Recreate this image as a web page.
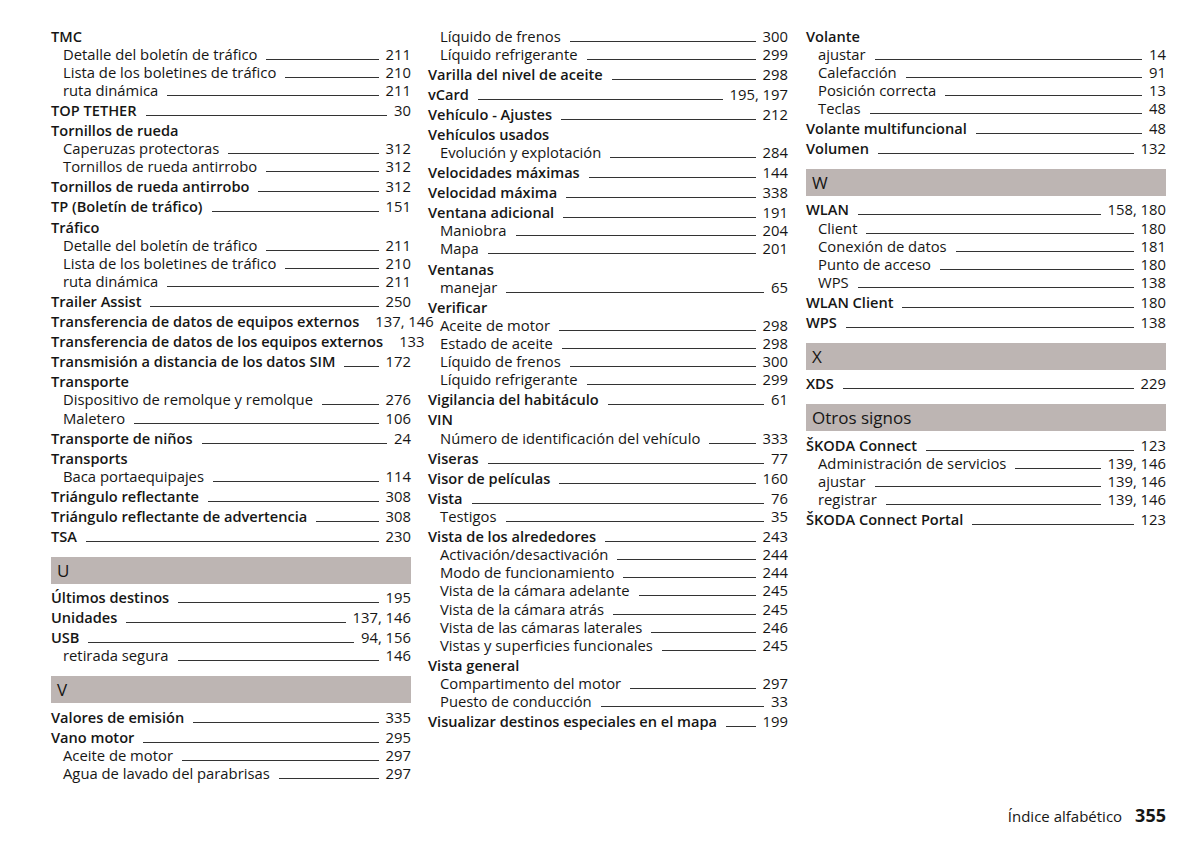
<!DOCTYPE html>
<html lang="es">
<head>
<meta charset="utf-8">
<script src="https://cdn.jsdelivr.net/npm/chart.js@4"></script>
<style>
  html, body { margin: 0; padding: 0; background: #fff; }
  #page { position: relative; width: 1200px; height: 845px; overflow: hidden;
          font-family: "Open Sans", sans-serif; color: #161615; font-size: 14.8px; }
  .row { position: absolute; height: 18px; line-height: 18px; display: flex; white-space: nowrap; }
  .row .lbl { flex: 0 0 auto; }
  .row .lead { flex: 1 1 auto; min-width: 0; height: 1px; background: #333; margin: 14px 7px 0 9px; }
  .row .pg { flex: 0 0 auto; font-weight: 400; font-size: 14.8px; }
  .row.m .lbl { font-weight: 600; font-size: 14.6px; }
  .bar { position: absolute; height: 27px; background: #bdb5b3; font-size: 17px; line-height: 27px;
         padding-left: 6px; box-sizing: border-box; }
  #foot { position: absolute; right: 34px; top: 803px; font-size: 15px; line-height: 24px; }
  #foot b { font-size: 18px; margin-left: 13px; }
</style>
</head>
<body>
<div id="page"></div>
<script>
// index entries: [kind, label, pages]  kind: m = main entry, s = sub entry, bar = letter header
const colOne = [
  ['m', 'TMC', ''],
  ['s', 'Detalle del boletín de tráfico', '211'],
  ['s', 'Lista de los boletines de tráfico', '210'],
  ['s', 'ruta dinámica', '211'],
  ['m', 'TOP TETHER', '30'],
  ['m', 'Tornillos de rueda', ''],
  ['s', 'Caperuzas protectoras', '312'],
  ['s', 'Tornillos de rueda antirrobo', '312'],
  ['m', 'Tornillos de rueda antirrobo', '312'],
  ['m', 'TP (Boletín de tráfico)', '151'],
  ['m', 'Tráfico', ''],
  ['s', 'Detalle del boletín de tráfico', '211'],
  ['s', 'Lista de los boletines de tráfico', '210'],
  ['s', 'ruta dinámica', '211'],
  ['m', 'Trailer Assist', '250'],
  ['m', 'Transferencia de datos de equipos externos', '137, 146'],
  ['m', 'Transferencia de datos de los equipos externos', '133'],
  ['m', 'Transmisión a distancia de los datos SIM', '172'],
  ['m', 'Transporte', ''],
  ['s', 'Dispositivo de remolque y remolque', '276'],
  ['s', 'Maletero', '106'],
  ['m', 'Transporte de niños', '24'],
  ['m', 'Transports', ''],
  ['s', 'Baca portaequipajes', '114'],
  ['m', 'Triángulo reflectante', '308'],
  ['m', 'Triángulo reflectante de advertencia', '308'],
  ['m', 'TSA', '230'],
  ['bar', 'U', ''],
  ['m', 'Últimos destinos', '195'],
  ['m', 'Unidades', '137, 146'],
  ['m', 'USB', '94, 156'],
  ['s', 'retirada segura', '146'],
  ['bar', 'V', ''],
  ['m', 'Valores de emisión', '335'],
  ['m', 'Vano motor', '295'],
  ['s', 'Aceite de motor', '297'],
  ['s', 'Agua de lavado del parabrisas', '297']
];

const colTwo = [
  ['s', 'Líquido de frenos', '300'],
  ['s', 'Líquido refrigerante', '299'],
  ['m', 'Varilla del nivel de aceite', '298'],
  ['m', 'vCard', '195, 197'],
  ['m', 'Vehículo - Ajustes', '212'],
  ['m', 'Vehículos usados', ''],
  ['s', 'Evolución y explotación', '284'],
  ['m', 'Velocidades máximas', '144'],
  ['m', 'Velocidad máxima', '338'],
  ['m', 'Ventana adicional', '191'],
  ['s', 'Maniobra', '204'],
  ['s', 'Mapa', '201'],
  ['m', 'Ventanas', ''],
  ['s', 'manejar', '65'],
  ['m', 'Verificar', ''],
  ['s', 'Aceite de motor', '298'],
  ['s', 'Estado de aceite', '298'],
  ['s', 'Líquido de frenos', '300'],
  ['s', 'Líquido refrigerante', '299'],
  ['m', 'Vigilancia del habitáculo', '61'],
  ['m', 'VIN', ''],
  ['s', 'Número de identificación del vehículo', '333'],
  ['m', 'Viseras', '77'],
  ['m', 'Visor de películas', '160'],
  ['m', 'Vista', '76'],
  ['s', 'Testigos', '35'],
  ['m', 'Vista de los alrededores', '243'],
  ['s', 'Activación/desactivación', '244'],
  ['s', 'Modo de funcionamiento', '244'],
  ['s', 'Vista de la cámara adelante', '245'],
  ['s', 'Vista de la cámara atrás', '245'],
  ['s', 'Vista de las cámaras laterales', '246'],
  ['s', 'Vistas y superficies funcionales', '245'],
  ['m', 'Vista general', ''],
  ['s', 'Compartimento del motor', '297'],
  ['s', 'Puesto de conducción', '33'],
  ['m', 'Visualizar destinos especiales en el mapa', '199']
];

const colThree = [
  ['m', 'Volante', ''],
  ['s', 'ajustar', '14'],
  ['s', 'Calefacción', '91'],
  ['s', 'Posición correcta', '13'],
  ['s', 'Teclas', '48'],
  ['m', 'Volante multifuncional', '48'],
  ['m', 'Volumen', '132'],
  ['bar', 'W', ''],
  ['m', 'WLAN', '158, 180'],
  ['s', 'Client', '180'],
  ['s', 'Conexión de datos', '181'],
  ['s', 'Punto de acceso', '180'],
  ['s', 'WPS', '138'],
  ['m', 'WLAN Client', '180'],
  ['m', 'WPS', '138'],
  ['bar', 'X', ''],
  ['m', 'XDS', '229'],
  ['bar', 'Otros signos', ''],
  ['m', 'ŠKODA Connect', '123'],
  ['s', 'Administración de servicios', '139, 146'],
  ['s', 'ajustar', '139, 146'],
  ['s', 'registrar', '139, 146'],
  ['m', 'ŠKODA Connect Portal', '123']
];

const footerLabel = 'Índice alfabético';
const pageNumber = '355';

const page = document.getElementById('page');
const colLeft = [51, 428, 806];
const colWidth = 360;

function buildColumn(items, left) {
  let y = 36;
  let afterBar = false;
  items.forEach(([kind, label, pages], i) => {
    if (kind === 'bar') {
      const top = y + 20.4;
      const el = document.createElement('div');
      el.className = 'bar';
      el.style.left = left + 'px';
      el.style.top = top + 'px';
      el.style.width = colWidth + 'px';
      el.textContent = label;
      page.appendChild(el);
      y = top + 40.8;
      afterBar = true;
      return;
    }
    if (i > 0 && !afterBar) y += kind === 'm' ? 20.05 : 18.15;
    afterBar = false;

    const indent = kind === 's' ? 12 : 0;
    const row = document.createElement('div');
    row.className = 'row ' + kind;
    row.style.left = (left + indent) + 'px';
    row.style.top = (y - 9.5) + 'px';
    row.style.width = (colWidth - indent) + 'px';
    row.innerHTML = `<span class="lbl"></span>${pages ? '<span class="lead"></span><span class="pg"></span>' : ''}`;
    row.querySelector('.lbl').textContent = label;
    if (pages) row.querySelector('.pg').textContent = pages;
    page.appendChild(row);
  });
}

buildColumn(colOne, colLeft[0]);
buildColumn(colTwo, colLeft[1]);
buildColumn(colThree, colLeft[2]);

const foot = document.createElement('div');
foot.id = 'foot';
foot.innerHTML = `<span></span><b></b>`;
foot.querySelector('span').textContent = footerLabel;
foot.querySelector('b').textContent = pageNumber;
page.appendChild(foot);
</script>
</body>
</html>
